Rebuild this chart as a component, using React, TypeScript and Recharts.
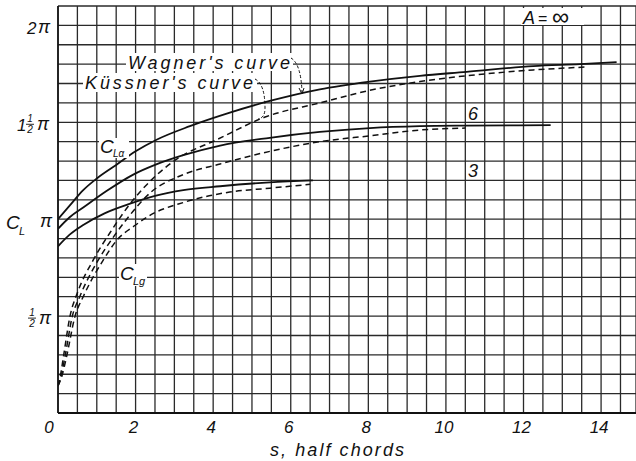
import { CartesianGrid, Line, LineChart, XAxis, YAxis } from 'recharts'

// s in half chords, C_L in multiples of pi
const wagnerInf = [
  { s: 0, cl: 1.0 }, { s: 0.3, cl: 1.07 }, { s: 0.65, cl: 1.15 }, { s: 1.0, cl: 1.21 },
  { s: 1.5, cl: 1.28 }, { s: 2.0, cl: 1.35 }, { s: 2.54, cl: 1.41 }, { s: 3.4, cl: 1.48 },
  { s: 4.43, cl: 1.55 }, { s: 5.46, cl: 1.61 }, { s: 6.75, cl: 1.67 }, { s: 8.04, cl: 1.71 },
  { s: 9.33, cl: 1.74 }, { s: 10.53, cl: 1.76 }, { s: 12.25, cl: 1.79 }, { s: 13.45, cl: 1.8 },
  { s: 14.4, cl: 1.81 },
]
const wagner6 = [
  { s: 0, cl: 0.95 }, { s: 0.3, cl: 1.01 }, { s: 0.65, cl: 1.06 }, { s: 1.25, cl: 1.145 },
  { s: 1.94, cl: 1.23 }, { s: 2.5, cl: 1.28 }, { s: 3.23, cl: 1.33 }, { s: 4.18, cl: 1.38 },
  { s: 5.46, cl: 1.42 }, { s: 6.75, cl: 1.45 }, { s: 8.04, cl: 1.47 }, { s: 9.33, cl: 1.48 },
  { s: 10.5, cl: 1.483 }, { s: 12.7, cl: 1.485 },
]
const wagner3 = [
  { s: 0, cl: 0.86 }, { s: 0.3, cl: 0.92 }, { s: 0.65, cl: 0.97 }, { s: 1.2, cl: 1.03 },
  { s: 1.86, cl: 1.08 }, { s: 2.5, cl: 1.12 }, { s: 3.23, cl: 1.15 }, { s: 4.18, cl: 1.17 },
  { s: 5.46, cl: 1.19 }, { s: 6.57, cl: 1.2 },
]
const kussnerInf = [
  { s: 0, cl: 0.14 }, { s: 0.06, cl: 0.19 }, { s: 0.14, cl: 0.29 }, { s: 0.31, cl: 0.5 },
  { s: 0.5, cl: 0.62 }, { s: 0.91, cl: 0.79 }, { s: 1.34, cl: 0.93 }, { s: 1.94, cl: 1.1 },
  { s: 2.5, cl: 1.22 }, { s: 3.06, cl: 1.31 }, { s: 4.09, cl: 1.41 }, { s: 5.38, cl: 1.53 },
  { s: 6.75, cl: 1.6 }, { s: 8.04, cl: 1.665 }, { s: 9.33, cl: 1.71 }, { s: 10.53, cl: 1.74 },
  { s: 12.25, cl: 1.77 }, { s: 13.6, cl: 1.785 },
]
const kussner6 = [
  { s: 0, cl: 0.14 }, { s: 0.08, cl: 0.19 }, { s: 0.18, cl: 0.29 }, { s: 0.37, cl: 0.5 },
  { s: 0.56, cl: 0.6 }, { s: 1.04, cl: 0.79 }, { s: 1.4, cl: 0.9 }, { s: 1.77, cl: 1.0 },
  { s: 2.4, cl: 1.14 }, { s: 3.23, cl: 1.23 }, { s: 4.18, cl: 1.285 }, { s: 5.46, cl: 1.35 },
  { s: 6.75, cl: 1.4 }, { s: 8.04, cl: 1.43 }, { s: 9.33, cl: 1.46 }, { s: 10.5, cl: 1.47 },
]
const kussner3 = [
  { s: 0, cl: 0.14 }, { s: 0.1, cl: 0.19 }, { s: 0.22, cl: 0.29 }, { s: 0.44, cl: 0.5 },
  { s: 0.65, cl: 0.6 }, { s: 1.17, cl: 0.79 }, { s: 1.51, cl: 0.89 }, { s: 2.0, cl: 0.97 },
  { s: 2.37, cl: 1.02 }, { s: 3.23, cl: 1.086 }, { s: 4.43, cl: 1.14 }, { s: 5.46, cl: 1.16 },
  { s: 6.5, cl: 1.18 },
]

// grid every half chord and every tenth of pi
const xTicks = [
  0, 0.5, 1, 1.5, 2, 2.5, 3, 3.5, 4, 4.5, 5, 5.5, 6, 6.5, 7, 7.5,
  8, 8.5, 9, 9.5, 10, 10.5, 11, 11.5, 12, 12.5, 13, 13.5, 14, 14.5,
]
const xLabels = [0, 2, 4, 6, 8, 10, 12, 14]
const yTicks = [
  0, 0.1, 0.2, 0.3, 0.4, 0.5, 0.6, 0.7, 0.8, 0.9, 1, 1.1,
  1.2, 1.3, 1.4, 1.5, 1.6, 1.7, 1.8, 1.9, 2, 2.1,
]

const FONT = '"Liberation Sans", Arial, sans-serif'
const INK = '#111'

function XTick(props: any) {
  const { x, y, payload } = props
  if (!xLabels.includes(payload.value)) return <g />
  const dx = payload.value === 0 ? -9 : -2
  return (
    <text x={x + dx} y={y + 12} textAnchor="middle" fontFamily={FONT} fontStyle="italic" fontSize={17} fill={INK}>
      {payload.value}
    </text>
  )
}

function Half({ x, y }: { x: number; y: number }) {
  return (
    <g fontFamily={FONT} fontStyle="italic" fill={INK}>
      <text x={x} y={y - 3} fontSize={10} textAnchor="middle">1</text>
      <line x1={x - 4} x2={x + 4} y1={y - 1} y2={y - 1} stroke={INK} strokeWidth={0.9} />
      <text x={x} y={y + 8} fontSize={10} textAnchor="middle">2</text>
    </g>
  )
}

function YTick(props: any) {
  const { payload } = props
  const y = props.y + 3
  const v = payload.value
  const pi = (px: number) => (
    <text x={px} y={y + 5} fontFamily={FONT} fontStyle="italic" fontSize={18} fill={INK}>π</text>
  )
  if (v === 2) {
    return (
      <g>
        <text x={27} y={y + 6} fontFamily={FONT} fontStyle="italic" fontSize={17} fill={INK}>2</text>
        {pi(38)}
      </g>
    )
  }
  if (v === 1.5) {
    return (
      <g>
        <text x={17} y={y + 6} fontFamily={FONT} fontStyle="italic" fontSize={17} fill={INK}>1</text>
        <Half x={30} y={y} />
        {pi(37)}
      </g>
    )
  }
  if (v === 1) {
    return (
      <g>
        <text x={6} y={y + 7} fontFamily={FONT} fontStyle="italic" fontSize={19} fill={INK}>C</text>
        <text x={19} y={y + 13} fontFamily={FONT} fontStyle="italic" fontSize={11} fill={INK}>L</text>
        {pi(40)}
      </g>
    )
  }
  if (v === 0.5) {
    return (
      <g>
        <Half x={32} y={y} />
        {pi(39)}
      </g>
    )
  }
  return <g />
}

function Annotations() {
  const txt = { fontFamily: FONT, fontStyle: 'italic' as const, fill: INK }
  return (
    <svg width={636} height={461} style={{ position: 'absolute', left: 0, top: 0, pointerEvents: 'none' }}>
      <rect x={126} y={53} width={167} height={18} fill="#fff" />
      <text x={128} y={69} fontSize={18} textLength={162} lengthAdjust="spacing" {...txt}>Wagner's curve</text>
      <rect x={83} y={73} width={174} height={19} fill="#fff" />
      <text x={85} y={89} fontSize={18} textLength={168} lengthAdjust="spacing" {...txt}>Küssner's curve</text>
      <path d="M291,58 Q301,64 302,92" fill="none" stroke={INK} strokeWidth={1} strokeDasharray="3 2" />
      <path d="M299,88 L302,94 L304,88" fill="none" stroke={INK} strokeWidth={1} />
      <path d="M255,79 Q265,84 265,108 Q265,118 258,119" fill="none" stroke={INK} strokeWidth={1} strokeDasharray="3 2" />

      <rect x={99} y={138} width={30} height={20} fill="#fff" />
      <text x={100} y={153} fontSize={19} {...txt}>C</text>
      <text x={113} y={157} fontSize={10} {...txt}>Lα</text>

      <rect x={119} y={264} width={28} height={22} fill="#fff" />
      <text x={120} y={280} fontSize={19} {...txt}>C</text>
      <text x={133} y={285} fontSize={11} {...txt}>Lg</text>

      <rect x={467} y={104} width={16} height={16} fill="#fff" />
      <text x={468} y={120} fontSize={18} {...txt}>6</text>
      <rect x={467} y={162} width={16} height={16} fill="#fff" />
      <text x={468} y={177} fontSize={18} {...txt}>3</text>

      <rect x={521} y={8} width={63} height={17} fill="#fff" />
      <text x={523} y={24} fontSize={18} fontFamily={FONT} fontStyle="italic" fill={INK}>A</text>
      <text x={538} y={24} fontSize={16} fontFamily={FONT} fill={INK}>=</text>
      <text x={552} y={25} fontSize={24} fontFamily={FONT} fill={INK}>∞</text>

      <text x={270} y={456} fontSize={18} textLength={134} lengthAdjust="spacing" {...txt}>s, half chords</text>
    </svg>
  )
}

export default function App() {
  const solid = { type: 'monotone' as const, dataKey: 'cl', stroke: '#111', strokeWidth: 1.8, dot: false, isAnimationActive: false }
  const dashed = { ...solid, strokeWidth: 1.5, strokeDasharray: '6 4' }
  return (
    <div style={{ position: 'absolute', left: 0, top: 0, width: 636, height: 461, background: '#fff' }}>
      <LineChart width={636} height={461} margin={{ top: 6, right: 0, bottom: 0, left: 0 }}>
        <CartesianGrid stroke="#2a2a2a" strokeWidth={1.3} />
        <XAxis
          type="number"
          dataKey="s"
          domain={[0, 14.9]}
          ticks={xTicks}
          interval={0}
          allowDataOverflow
          height={48}
          tickLine={false}
          axisLine={{ stroke: '#111', strokeWidth: 2.2 }}
          tick={<XTick />}
        />
        <YAxis
          type="number"
          domain={[0, 2.1]}
          ticks={yTicks}
          interval={0}
          width={58}
          tickLine={false}
          axisLine={{ stroke: '#111', strokeWidth: 1.6 }}
          tick={<YTick />}
        />
        <Line data={wagnerInf} {...solid} />
        <Line data={wagner6} {...solid} />
        <Line data={wagner3} {...solid} />
        <Line data={kussnerInf} {...dashed} />
        <Line data={kussner6} {...dashed} />
        <Line data={kussner3} {...dashed} />
      </LineChart>
      <Annotations />
    </div>
  )
}
